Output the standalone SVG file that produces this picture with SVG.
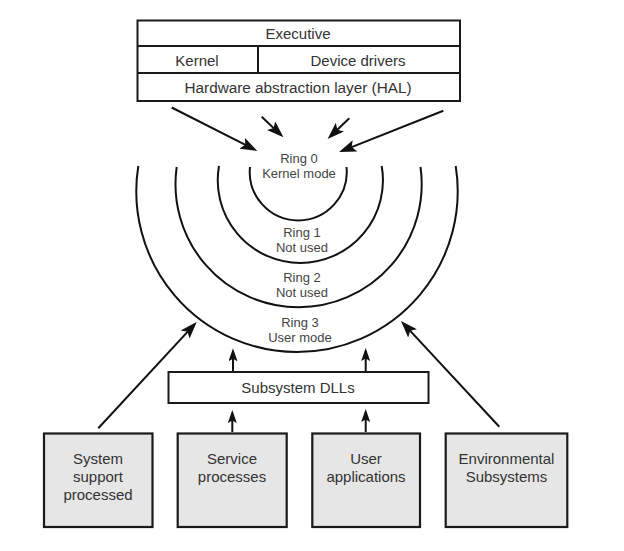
<svg xmlns="http://www.w3.org/2000/svg" width="624" height="551" viewBox="0 0 624 551">
<style>
.box{fill:#fff;stroke:#1a1a1a;stroke-width:2}
.gbox{fill:#e6e6e6;stroke:#1a1a1a;stroke-width:2.2}
.ln{stroke:#1a1a1a;stroke-width:2;fill:none}
.arc{stroke:#111;stroke-width:2;fill:none}
.t{font-family:"Liberation Sans",Arial,sans-serif;font-size:15px;fill:#333;text-anchor:middle}
.r{font-family:"Liberation Sans",Arial,sans-serif;font-size:13px;fill:#444;text-anchor:middle}
.ar{stroke:#111;stroke-width:2;fill:none;marker-end:url(#ah)}
.as{stroke:#111;stroke-width:2;fill:none;marker-end:url(#ahs)}
</style>
<defs>
<marker id="ah" viewBox="0 0 17 12" refX="13" refY="6" markerWidth="17" markerHeight="12" markerUnits="userSpaceOnUse" orient="auto">
<path d="M0,0 L17,6 L0,12 L3.5,6 z" fill="#111"/>
</marker>
<marker id="ahs" viewBox="0 0 13 9" refX="10" refY="4.5" markerWidth="13" markerHeight="9" markerUnits="userSpaceOnUse" orient="auto">
<path d="M0,0 L13,4.5 L0,9 L2.5,4.5 z" fill="#111"/>
</marker>
</defs>
<rect width="624" height="551" fill="#fff"/>
<g id="top-stack">
<rect class="box" x="137.5" y="20.5" width="322.5" height="80.5"/>
<line class="ln" x1="137.5" y1="46" x2="460" y2="46"/>
<line class="ln" x1="137.5" y1="73" x2="460" y2="73"/>
<line class="ln" x1="258" y1="46" x2="258" y2="73"/>
<text class="t" x="298" y="39">Executive</text>
<text class="t" x="197" y="66">Kernel</text>
<text class="t" x="358" y="66">Device drivers</text>
<text class="t" x="298" y="93" style="font-size:15.3px">Hardware abstraction layer (HAL)</text>
</g>
<g id="rings">
<path class="arc" d="M250,167 A48.5,48.5 0 1 0 346.5,167"/>
<path class="arc" d="M219,166 A82.6,82.6 0 1 0 381.7,166"/>
<path class="arc" d="M176.7,167 A123.1,123.1 0 1 0 420.5,167"/>
<path class="arc" d="M138.3,166 A160.7,160.7 0 1 0 455.7,166"/>
<text class="r" x="299" y="162.5">Ring 0</text>
<text class="r" x="299" y="178">Kernel mode</text>
<text class="r" x="302" y="236.5">Ring 1</text>
<text class="r" x="302" y="251.5">Not used</text>
<text class="r" x="302" y="281.5">Ring 2</text>
<text class="r" x="302" y="296.5">Not used</text>
<text class="r" x="300" y="326.5">Ring 3</text>
<text class="r" x="300" y="342">User mode</text>
</g>
<g id="subsystem-dlls">
<rect class="box" x="168.5" y="372" width="260" height="31"/>
<text class="t" x="298" y="393">Subsystem DLLs</text>
</g>
<g id="system-support">
<rect class="gbox" x="44" y="433.5" width="108.5" height="93.5"/>
<text class="t" x="98" y="463.5">System</text>
<text class="t" x="98" y="481.5">support</text>
<text class="t" x="98" y="499.5">processed</text>
</g>
<g id="service-processes">
<rect class="gbox" x="177.7" y="433.5" width="109" height="93.5"/>
<text class="t" x="232" y="463.5">Service</text>
<text class="t" x="232" y="481.5">processes</text>
</g>
<g id="user-applications">
<rect class="gbox" x="312.3" y="433.5" width="107.7" height="93.5"/>
<text class="t" x="366" y="463.5">User</text>
<text class="t" x="366" y="481.5">applications</text>
</g>
<g id="environmental-subsystems">
<rect class="gbox" x="445.7" y="433.5" width="121.6" height="93.5"/>
<text class="t" x="506.5" y="463.5">Environmental</text>
<text class="t" x="506.5" y="481.5">Subsystems</text>
</g>
<g id="connectors">
<line class="ar" x1="171.7" y1="107.5" x2="253.8" y2="149.1"/>
<line class="ar" x1="261.7" y1="116.7" x2="280.5" y2="134.6"/>
<line class="ar" x1="349.3" y1="118.3" x2="330.5" y2="136.2"/>
<line class="ar" x1="443.3" y1="110.7" x2="342.8" y2="150.6"/>
<line class="ar" x1="98.3" y1="428.3" x2="194" y2="324.9"/>
<line class="ar" x1="499.3" y1="426.7" x2="403.7" y2="323.9"/>
<line class="as" x1="233" y1="371" x2="233" y2="351.3"/>
<line class="as" x1="365.7" y1="371" x2="365.7" y2="351"/>
<line class="as" x1="232.3" y1="432" x2="232.3" y2="413"/>
<line class="as" x1="365.7" y1="432" x2="365.7" y2="412"/>
</g>
</svg>
